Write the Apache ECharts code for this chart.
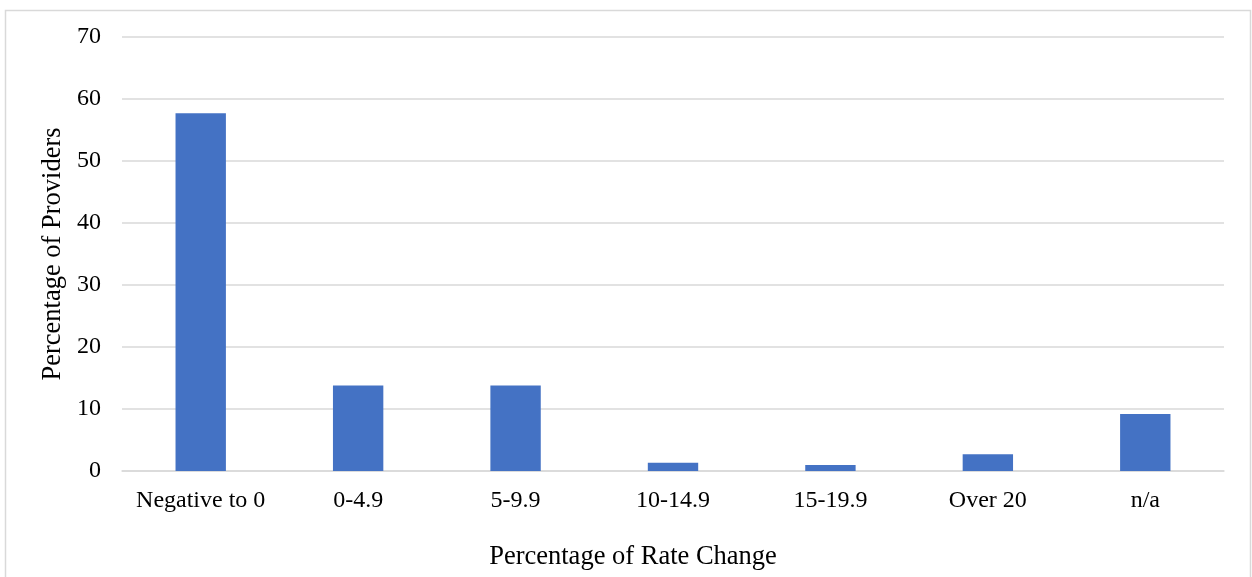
<!DOCTYPE html>
<html><head><meta charset="utf-8">
<script src="https://cdn.jsdelivr.net/npm/echarts@6/dist/echarts.min.js"></script>
<style>html,body{margin:0;padding:0;background:#fff}#c{width:1252px;height:577px}</style>
</head><body><div id="c"></div>
<script>
const categories = ["Negative to 0", "0-4.9", "5-9.9", "10-14.9", "15-19.9", "Over 20", "n/a"];
const values = [57.7, 13.8, 13.8, 1.35, 0.95, 2.7, 9.2];
const yTicks = { min: 0, max: 70, interval: 10 };
const xTitle = "Percentage of Rate Change";
const yTitle = "Percentage of Providers";

const font = "'Liberation Serif', 'Times New Roman', serif";
const chart = echarts.init(document.getElementById('c'), null, {renderer: 'canvas'});
chart.setOption({
  animation: false,
  backgroundColor: '#fff',
  graphic: [{
    type: 'rect', left: 3, top: 8, z: -1,
    shape: { width: 1245, height: 620 },
    style: { fill: 'none', stroke: '#d9d9d9', lineWidth: 1.5 }
  }],
  grid: { left: 122, right: 28, top: 37, bottom: 106 },
  xAxis: {
    type: 'category', data: categories,
    axisLine: { show: true, lineStyle: { color: '#d9d9d9', width: 1.5 } },
    axisTick: { show: false },
    axisLabel: { color: '#000', fontFamily: font, fontSize: 24, margin: 18, interval: 0 },
    name: xTitle, nameLocation: 'middle', nameGap: 73,
    nameTextStyle: { color: '#000', fontFamily: font, fontSize: 26.5, padding: [0, 80, 0, 0] }
  },
  yAxis: {
    type: 'value', min: yTicks.min, max: yTicks.max, interval: yTicks.interval,
    axisLine: { show: false }, axisTick: { show: false },
    splitLine: { lineStyle: { color: '#d9d9d9', width: 1.5 } },
    axisLabel: { color: '#000', fontFamily: font, fontSize: 24, margin: 21 },
    name: yTitle, nameLocation: 'middle', nameGap: 50, nameRotate: 90,
    nameTextStyle: { color: '#000', fontFamily: font, fontSize: 26.5 }
  },
  series: [{
    type: 'bar', data: values, barWidth: '32%',
    itemStyle: { color: '#4472C4' }
  }]
});
</script></body></html>
